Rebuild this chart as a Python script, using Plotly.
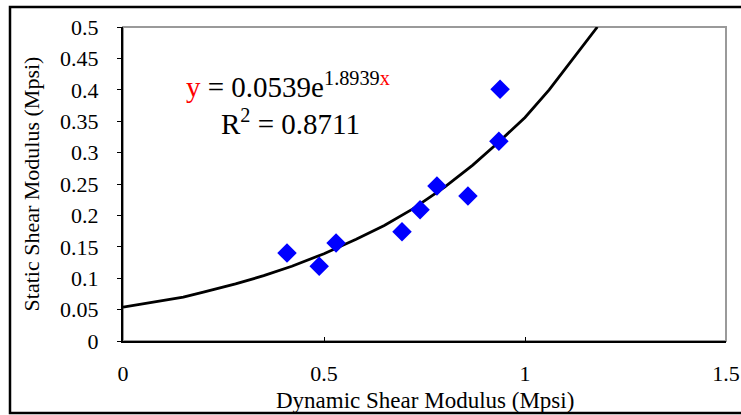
import plotly.graph_objects as go

# Measured data points (Dynamic vs Static shear modulus, Mpsi)
dyn = [0.408, 0.488, 0.530, 0.694, 0.739, 0.781, 0.858, 0.935, 0.938]
stat = [0.140, 0.119, 0.156, 0.174, 0.209, 0.247, 0.231, 0.318, 0.401]

# Trend line
trend_x = [0.0, 0.08, 0.15, 0.2, 0.28, 0.35, 0.42, 0.5, 0.58, 0.65, 0.72, 0.8, 0.87, 0.93, 1.0, 1.06, 1.12, 1.18]
trend_y = [0.054, 0.063, 0.070, 0.078, 0.091, 0.104, 0.119, 0.139, 0.162, 0.184, 0.210, 0.245, 0.280, 0.314, 0.356, 0.400, 0.450, 0.500]

x_title = "Dynamic Shear Modulus (Mpsi)"
y_title = "Static Shear Modulus (Mpsi)"

font_family = "Liberation Serif"

fig = go.Figure()
fig.add_trace(go.Scatter(x=trend_x, y=trend_y, mode="lines",
                         line=dict(color="black", width=2.8), showlegend=False))
fig.add_trace(go.Scatter(x=dyn, y=stat, mode="markers",
                         marker=dict(symbol="diamond", size=15, color="#0000FF"),
                         showlegend=False))

fig.update_layout(
    width=741, height=415,
    margin=dict(l=123, r=15, t=27, b=74),
    paper_bgcolor="white", plot_bgcolor="white",
    font=dict(family=font_family, size=22, color="black"),
    showlegend=False,
    xaxis=dict(range=[0, 1.5], dtick=0.5, showgrid=False, zeroline=False,
               showline=True, linecolor="black", linewidth=2,
               ticks="inside", ticklen=4, tickcolor="black",
               ticklabelstandoff=12,
               tickfont=dict(family=font_family, size=22),
               automargin=False),
    yaxis=dict(range=[0, 0.5], dtick=0.05, showgrid=False, zeroline=False,
               showline=True, linecolor="black", linewidth=2,
               ticks="outside", ticklen=4, tickcolor="black",
               ticklabelstandoff=14,
               title=dict(text=y_title, standoff=14,
                          font=dict(family=font_family, size=22)),
               tickfont=dict(family=font_family, size=22),
               automargin=False),
    shapes=[
        dict(type="rect", xref="paper", yref="paper", x0=0, x1=1, y0=0, y1=1,
             line=dict(color="#9a9a9a", width=2), layer="below"),
        dict(type="rect", xref="paper", yref="paper",
             x0=-0.1874, x1=1.04, y0=-0.2293, y1=1.0637,
             line=dict(color="black", width=2.5)),
    ],
    annotations=[
        dict(xref="paper", yref="paper", x=0.5, y=-0.191, xanchor="center", yanchor="middle",
             showarrow=False, font=dict(family=font_family, size=23), text=x_title),
        dict(xref="x", yref="y", x=0.152, y=0.407, xanchor="left", yanchor="middle",
             showarrow=False, font=dict(family=font_family, size=29),
             text="<span style='color:red'>y</span> = 0.0539e<sup>1.8939<span style='color:red'>x</span></sup>"),
        dict(xref="x", yref="y", x=0.24, y=0.349, xanchor="left", yanchor="middle",
             showarrow=False, font=dict(family=font_family, size=29),
             text="R<sup>2</sup> = 0.8711"),
    ],
)

fig.write_html("out.html", post_script="document.body.style.margin='0';",
               config={"displayModeBar": False})
